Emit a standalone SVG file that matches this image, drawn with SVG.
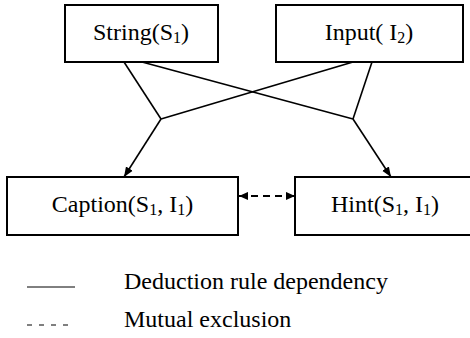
<svg xmlns="http://www.w3.org/2000/svg" width="470" height="338" viewBox="0 0 470 338">
<style>
text{font-family:"Liberation Serif","Times New Roman",serif;font-size:24px;fill:#000}
.box{fill:#fff;stroke:#000;stroke-width:2}
.edge{fill:none;stroke:#000;stroke-width:1.6}
.dash{fill:none;stroke:#000;stroke-width:2;stroke-dasharray:7,5}
.sub{font-size:16px}
</style>
<defs>
<marker id="arr" viewBox="0 0 10 10" refX="10" refY="5" markerWidth="10" markerHeight="10" markerUnits="userSpaceOnUse" orient="auto">
<path d="M0,1 L10,5 L0,9 Z" fill="#000"/>
</marker>
<marker id="arrs" viewBox="0 0 10 10" refX="10" refY="5" markerWidth="9" markerHeight="9" markerUnits="userSpaceOnUse" orient="auto-start-reverse">
<path d="M0,0.5 L10,5 L0,9.5 Z" fill="#000"/>
</marker>
</defs>
<g id="connectors">
<polyline class="edge" points="124,62 161,119"/>
<polyline class="edge" points="142,62 353,119"/>
<polyline class="edge" points="353,62 161,119"/>
<polyline class="edge" points="372,62 353,119"/>
<line class="edge" x1="161" y1="119" x2="124" y2="177" marker-end="url(#arr)"/>
<line class="edge" x1="353" y1="119" x2="391" y2="177" marker-end="url(#arr)"/>
<line class="dash" x1="239" y1="196" x2="295" y2="196" marker-start="url(#arrs)" marker-end="url(#arrs)"/>
</g>
<g id="node-string">
<rect class="box" x="65" y="5" width="153" height="57"/>
<text x="141" y="40" text-anchor="middle">String(S<tspan class="sub" dy="3">1</tspan><tspan dy="-3">)</tspan></text>
</g>
<g id="node-input">
<rect class="box" x="276" y="5" width="187" height="57"/>
<text x="369" y="40" text-anchor="middle">Input( I<tspan class="sub" dy="3">2</tspan><tspan dy="-3">)</tspan></text>
</g>
<g id="node-caption">
<rect class="box" x="7" y="177" width="231" height="58"/>
<text x="122.5" y="212" text-anchor="middle">Caption(S<tspan class="sub" dy="3">1</tspan><tspan dy="-3">, I</tspan><tspan class="sub" dy="3">1</tspan><tspan dy="-3">)</tspan></text>
</g>
<g id="node-hint">
<rect class="box" x="295" y="177" width="185" height="58"/>
<text x="385" y="212" text-anchor="middle">Hint(S<tspan class="sub" dy="3">1</tspan><tspan dy="-3">, I</tspan><tspan class="sub" dy="3">1</tspan><tspan dy="-3">)</tspan></text>
</g>
<g id="legend">
<line x1="27" y1="287" x2="75" y2="287" stroke="#000" stroke-width="1"/>
<text x="124" y="289">Deduction rule dependency</text>
<line x1="27" y1="325" x2="75" y2="325" stroke="#000" stroke-width="1" stroke-dasharray="5,7"/>
<text x="124" y="327">Mutual exclusion</text>
</g>
</svg>
